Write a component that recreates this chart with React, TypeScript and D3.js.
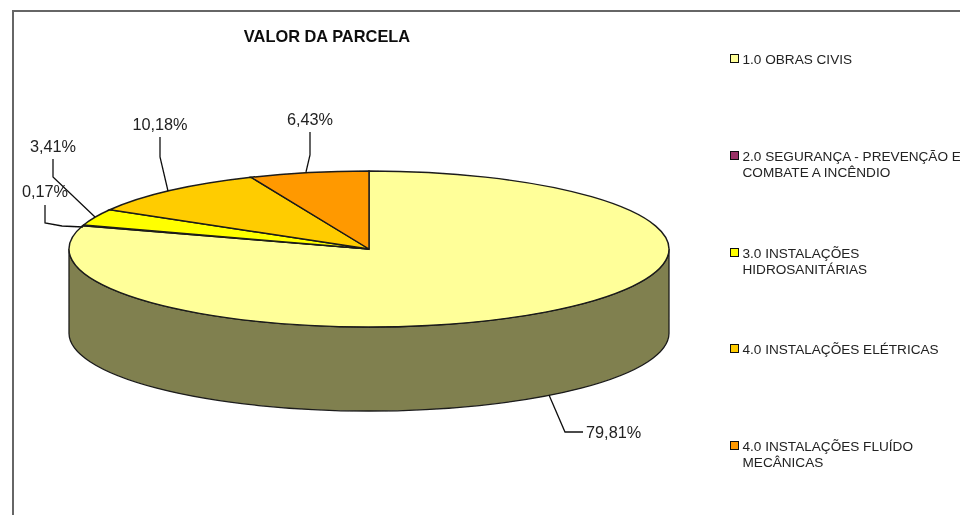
import React from "react";
import * as d3 from "d3";

const categories = [
  ["1.0 OBRAS CIVIS"],
  ["2.0 SEGURANÇA - PREVENÇÃO E", "COMBATE A INCÊNDIO"],
  ["3.0 INSTALAÇÕES", "HIDROSANITÁRIAS"],
  ["4.0 INSTALAÇÕES ELÉTRICAS"],
  ["4.0 INSTALAÇÕES FLUÍDO", "MECÂNICAS"],
];
const values = [79.81, 0.17, 3.41, 10.18, 6.43];
const valueLabels = ["79,81%", "0,17%", "3,41%", "10,18%", "6,43%"];
const colors = ["#FFFF99", "#993366", "#FFFF00", "#FFCC00", "#FF9900"];
const sideColor = "#808050";
const legendY = [59, 156, 253, 349, 446];
const leaders: [number, number][][] = [
  [[549, 395], [565, 432], [583, 432]],
  [[45, 205], [45, 223], [62, 226], [83, 227]],
  [[53, 159], [53, 177], [95, 217]],
  [[160, 137], [160, 157], [168, 191]],
  [[310, 132], [310, 155], [306, 172]],
];
const labelPos: [number, number, string][] = [
  [586, 432, "start"],
  [45, 191, "middle"],
  [53, 146, "middle"],
  [160, 124, "middle"],
  [310, 119, "middle"],
];

const cx = 369, cy = 249, rx = 300, ry = 78, depth = 84;
const font = "'Liberation Sans', Arial, sans-serif";
const ink = "#222";

export default function App() {
  const arcs = d3.pie<number>().sort(null)(values);
  const X = d3.scaleLinear().domain([-1, 1]).range([cx - rx, cx + rx]);
  const Y = d3.scaleLinear().domain([-1, 1]).range([cy + ry, cy - ry]);
  const px = (a: number) => X(Math.sin(a));
  const py = (a: number) => Y(Math.cos(a));
  const slice = (s: number, e: number) =>
    `M${cx},${cy}L${px(s)},${py(s)}A${rx},${ry} 0 ${e - s > Math.PI ? 1 : 0} 1 ${px(e)},${py(e)}Z`;
  const line = d3.line();
  const side = `M${cx - rx},${cy}A${rx},${ry} 0 0 0 ${cx + rx},${cy}V${cy + depth}A${rx},${ry} 0 0 1 ${cx - rx},${cy + depth}Z`;

  return (
    <svg
      width={960}
      height={515}
      style={{ position: "absolute", left: 0, top: 0, background: "#fff" }}
      fontFamily={font}
    >
      <defs>
        <filter id="soft" x="-5%" y="-5%" width="110%" height="110%">
          <feGaussianBlur stdDeviation="0.4" />
        </filter>
      </defs>
      <g filter="url(#soft)">
        <path d="M13,515V11H960" fill="none" stroke="#666" strokeWidth={2} />
        <text x={327} y={41.5} textAnchor="middle" fontSize={16.4} fontWeight="bold" fill="#111">
          VALOR DA PARCELA
        </text>
        <path d={side} fill={sideColor} stroke="#1a1a1a" strokeWidth={1.3} />
        {arcs.map((a, i) => (
          <path
            key={i}
            d={slice(a.startAngle, a.endAngle)}
            fill={colors[i]}
            stroke="#1a1a1a"
            strokeWidth={1.4}
          />
        ))}
        {leaders.map((l, i) => (
          <path key={i} d={line(l) ?? ""} fill="none" stroke="#111" strokeWidth={1.3} />
        ))}
        {labelPos.map(([x, y, anchor], i) => (
          <text
            key={i}
            x={x}
            y={y}
            dy="0.36em"
            textAnchor={anchor as "start" | "middle"}
            fontSize={16.3}
            fill={ink}
          >
            {valueLabels[i]}
          </text>
        ))}
        {categories.map((lines, i) => (
          <g key={i}>
            <rect
              x={730.5}
              y={legendY[i] - 4.5}
              width={8}
              height={8}
              fill={colors[i]}
              stroke="#111"
              strokeWidth={1}
            />
            {lines.map((t, j) => (
              <text key={j} x={742.5} y={legendY[i] + 4.5 + j * 16} fontSize={13.6} fill={ink}>
                {t}
              </text>
            ))}
          </g>
        ))}
      </g>
    </svg>
  );
}
